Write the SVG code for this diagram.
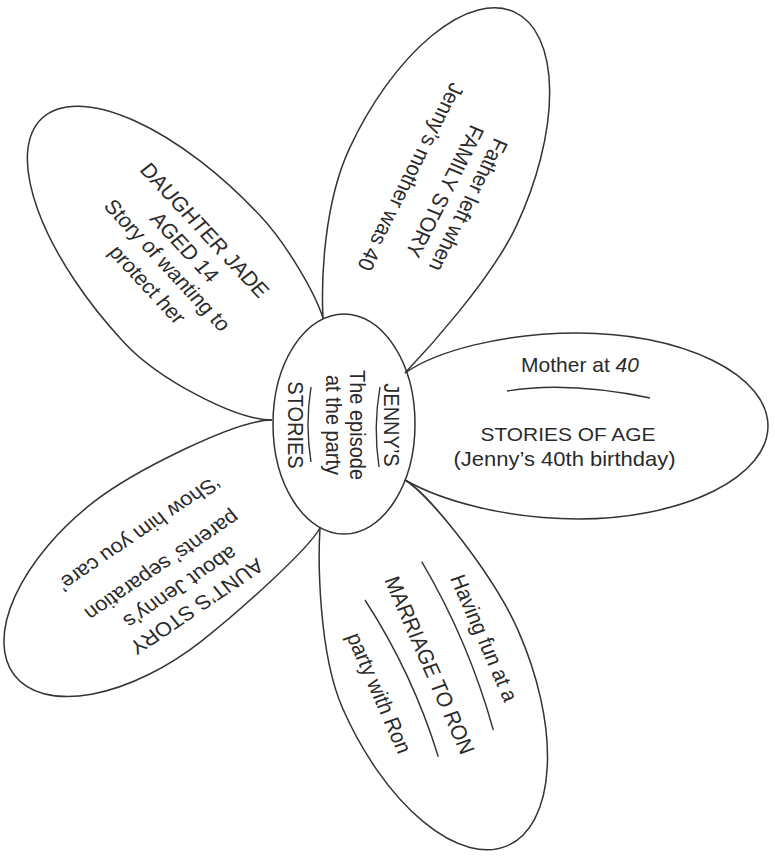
<svg xmlns="http://www.w3.org/2000/svg" width="775" height="860" viewBox="0 0 775 860">
<style>
.p{fill:none;stroke:#333;stroke-width:1.5}
.u{fill:none;stroke:#333;stroke-width:1.4}
text{font-family:"Liberation Sans",Arial,sans-serif;fill:#2a2a2a;text-anchor:middle;font-size:20px}
</style>
<rect width="775" height="860" fill="#fff"/>
<g id="connectors">
<path class="u" d="M380,387 Q373,427 379,467"/>
<path class="u" d="M311,387 Q305,425 311,462"/>
<path class="u" d="M507,391 Q568,381 650,398"/>
<path class="u" d="M421.7,561.7 Q468.5,641 493.3,730"/>
<path class="u" d="M365,600 Q412.7,673.6 438.3,756.7"/>
</g>
<g id="center">
<ellipse class="p" cx="344" cy="424" rx="71" ry="110"/>
<g style="font-size:21px">
<text transform="translate(392.5,425) scale(1.1,1) rotate(90)" y="7.5">JENNY’S</text>
<text transform="translate(356.5,425) scale(1.1,1) rotate(90)" y="5.5">The episode</text>
<text transform="translate(331.7,425) scale(1.1,1) rotate(90)" y="5.5">at the party</text>
<text transform="translate(296.7,425) scale(1.1,1) rotate(90)" y="7.5">STORIES</text>
</g>
</g>
<g id="family">
<path class="p" d="M323,318 C321,278 324.2,202.5 349.6,148.1 A193 92 -65 0 1 514.6,12.1 A193 92 -65 0 1 516.4,225.9 C491,280 425,352 405,373"/>
<text transform="translate(468.5,205) scale(1.1,1) rotate(114.9)" y="7">Father left when</text>
<text transform="translate(445,191.5) scale(1.1,1) rotate(114.9)" y="7">FAMILY STORY</text>
<text transform="translate(410,176.5) scale(1.1,1) rotate(114.9)" y="6">Jenny’s mother was 40</text>
</g>
<g id="daughter">
<path class="p" d="M272,420 C235,420 158.1,379 124,342.4 A220 93 47 0 1 42,118.2 A220 93 47 0 1 260,215.6 C287.3,244.8 315,293 323,318"/>
<g style="font-size:20.5px">
<text transform="translate(205,230) scale(1.1,1) rotate(49.7)" y="7.3">DAUGHTER JADE</text>
<text transform="translate(185,246.7) scale(1.1,1) rotate(49.7)" y="7.3">AGED 14</text>
<text transform="translate(166.7,265.8) scale(1.1,1) rotate(49.7)" y="6">Story of wanting to</text>
<text transform="translate(146.7,285) scale(1.1,1) rotate(49.7)" y="6">protect her</text>
</g>
</g>
<g id="age">
<path class="p" d="M405,373 C435,352 500,333 578,333 A190 93 0 0 1 768,426 A190 93 0 0 1 578,519 C505,519 440,500 405,480"/>
<text transform="translate(580,372) scale(1.05,1)">Mother at <tspan font-style="italic">40</tspan></text>
<text transform="translate(568,441) scale(1.1,1)" style="font-size:19px">STORIES OF AGE</text>
<text transform="translate(564.5,466) scale(1.1,1)">(Jenny’s 40th birthday)</text>
</g>
<g id="marriage">
<path class="p" d="M320,528 C318,560 318.5,653.3 342.6,708.3 A192 96 66.3 0 0 507.7,845.6 A192 96 66.3 0 0 518.4,631.1 C494.3,576.1 430,495 405,480"/>
<g style="font-size:20.5px">
<text transform="translate(483.3,638.3) scale(1.1,1) rotate(68.3)" y="6">Having fun at a</text>
<text transform="translate(430,665) scale(1.1,1) rotate(68.3)" y="7.3">MARRIAGE TO RON</text>
<text transform="translate(378.3,693.3) scale(1.1,1) rotate(68.3)" y="6">party with Ron</text>
</g>
</g>
<g id="aunt">
<path class="p" d="M272,420 C235,420 132.2,471.9 92.8,502.7 A168 88 -38 0 0 14.6,675.5 A168 88 -38 0 0 201.2,641.3 C236.7,613.6 308,550 320,528"/>
<text transform="translate(196.7,606.7) scale(1.1,1) rotate(143.4)" y="7">AUNT’S STORY</text>
<text transform="translate(180,586.7) scale(1.1,1) rotate(143.4)" y="6">about Jenny’s</text>
<text transform="translate(161.7,565) scale(1.1,1) rotate(143.4)" y="6">parents’ separation</text>
<text transform="translate(138.3,533.3) scale(1.1,1) rotate(143.4)" y="6">‘Show him you care’</text>
</g>
</svg>
